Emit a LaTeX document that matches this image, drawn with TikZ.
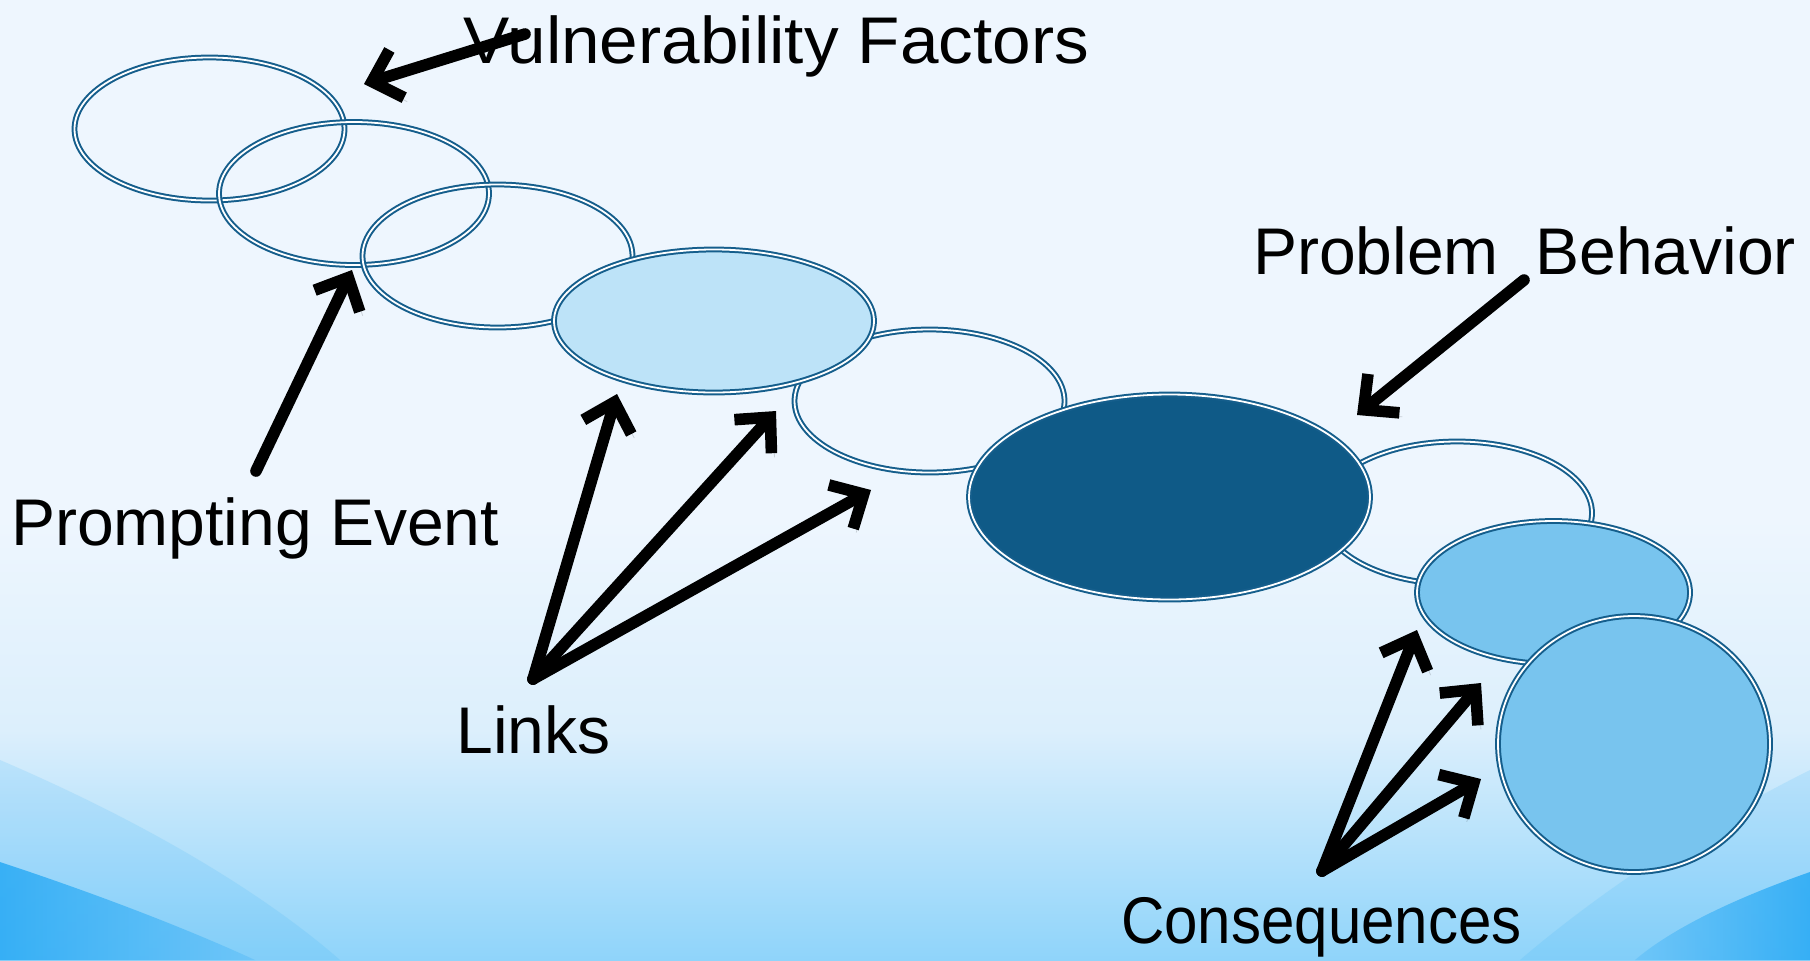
\documentclass[tikz,border=0pt]{standalone}
\usepackage{fontspec}
\usepackage{graphicx}
\setmainfont{Liberation Sans}
\usetikzlibrary{arrows.meta,shapes.geometric}
\definecolor{ringblue}{HTML}{155E8C}
\definecolor{linkfill}{HTML}{BDE3F8}
\definecolor{behfill}{HTML}{0F5A87}
\definecolor{consfill}{HTML}{78C4EE}
\definecolor{bgtop}{HTML}{EEF6FE}
\definecolor{bgmid}{HTML}{DCEFFC}
\definecolor{bgbot}{HTML}{8FD4FA}
\definecolor{bgedge}{HTML}{2EACF5}
% tikz fits the path to the 25bp--75bp part of a shading
\pgfdeclareverticalshading{slidebg}{100bp}{color(0bp)=(bgbot); color(25bp)=(bgbot); color(37bp)=(bgmid); color(48bp)=(bgtop); color(100bp)=(bgtop)}
\tikzset{
  ring/.style={ellipse,draw=ringblue,double=white,double distance=0.9pt,line width=1pt,inner sep=0pt,minimum width=135pt,minimum height=71.5pt},
  tag/.style={font=\fontsize{33}{40}\selectfont,inner sep=0pt,anchor=base},
  pointer/.style={line width=5.8pt,line cap=round,line join=round,-{Straight Barb[length=13pt,width=25pt]},
    preaction={draw=black,opacity=0.15,transform canvas={shift={(1.5pt,-2pt)}}}}
}

\begin{document}
\begin{tikzpicture}[x=0.5pt,y=-0.5pt]
  \useasboundingbox (0,0) rectangle (1810,960);
  % backdrop
  \shade[shading=slidebg] (0,0) rectangle (1810,960);
  \fill[bgedge,opacity=0.14] (0,760) .. controls (140,820) and (260,890) .. (340,960) -- (0,960) -- cycle;
  \fill[bgedge,opacity=0.14] (1810,770) .. controls (1690,830) and (1590,900) .. (1520,960) -- (1810,960) -- cycle;
  \shade[left color=bgedge,right color=bgedge!70!white,opacity=0.9] (0,862) .. controls (100,895) and (190,930) .. (255,960) -- (0,960) -- cycle;
  \shade[right color=bgedge,left color=bgedge!70!white,opacity=0.9] (1810,872) .. controls (1730,900) and (1670,930) .. (1635,960) -- (1810,960) -- cycle;

  % open rings of the chain
  \foreach \n/\x/\y in {vulA/209.5/129, vulB/354/193.5, prompt/497.5/256, linkB/929.5/401, linkC/1457/513}
    \node[ring] (\n) at (\x,\y) {};

  % filled rings
  \node[ring,fill=linkfill,minimum width=160pt] (linkA) at (714,321) {};
  \node[ring,fill=behfill,minimum width=200.5pt,minimum height=102.5pt] (behav) at (1169.5,497) {};
  \node[ring,fill=consfill,minimum width=136.5pt,minimum height=71.5pt] (consA) at (1553.5,592.5) {};
  \node[ring,fill=consfill,minimum width=136pt,minimum height=128pt] (consB) at (1634,744) {};

  % labels
  \node[tag] (vulTxt) at (776.5,63.5) {\scalebox{1.05}[1]{Vulnerability Factors}};
  \node[tag] (behTxt) at (1524.5,274) {Problem\ \ Behavior};
  \node[tag] (promptTxt) at (255,545) {Prompting Event};
  \node[tag] (linkTxt) at (533.5,753) {Links};
  \node[tag] (consTxt) at (1321.5,943) {\scalebox{0.91}[1]{Consequences}};

  % pointers
  \coordinate (vulTail) at (525,34);
  \coordinate (vulTip) at (364,84);
  \draw[pointer] (vulTail) -- (vulTip);
  \coordinate (promptTail) at (256,471);
  \coordinate (promptTip) at (352,270);
  \draw[pointer] (promptTail) -- (promptTip);
  \coordinate (behTail) at (1524,280);
  \coordinate (behTip) at (1357,415);
  \draw[pointer] (behTail) -- (behTip);
  \coordinate (linkRoot) at (533,679);
  \foreach \i/\x/\y in {1/617/394,2/776/411,3/871/490}{
    \coordinate (linkTip\i) at (\x,\y);
    \draw[pointer] (linkRoot) -- (linkTip\i);
  }
  \coordinate (consRoot) at (1322,871);
  \foreach \i/\x/\y in {1/1417/630,2/1481/683,3/1481/779}{
    \coordinate (consTip\i) at (\x,\y);
    \draw[pointer] (consRoot) -- (consTip\i);
  }
\end{tikzpicture}
\end{document}
